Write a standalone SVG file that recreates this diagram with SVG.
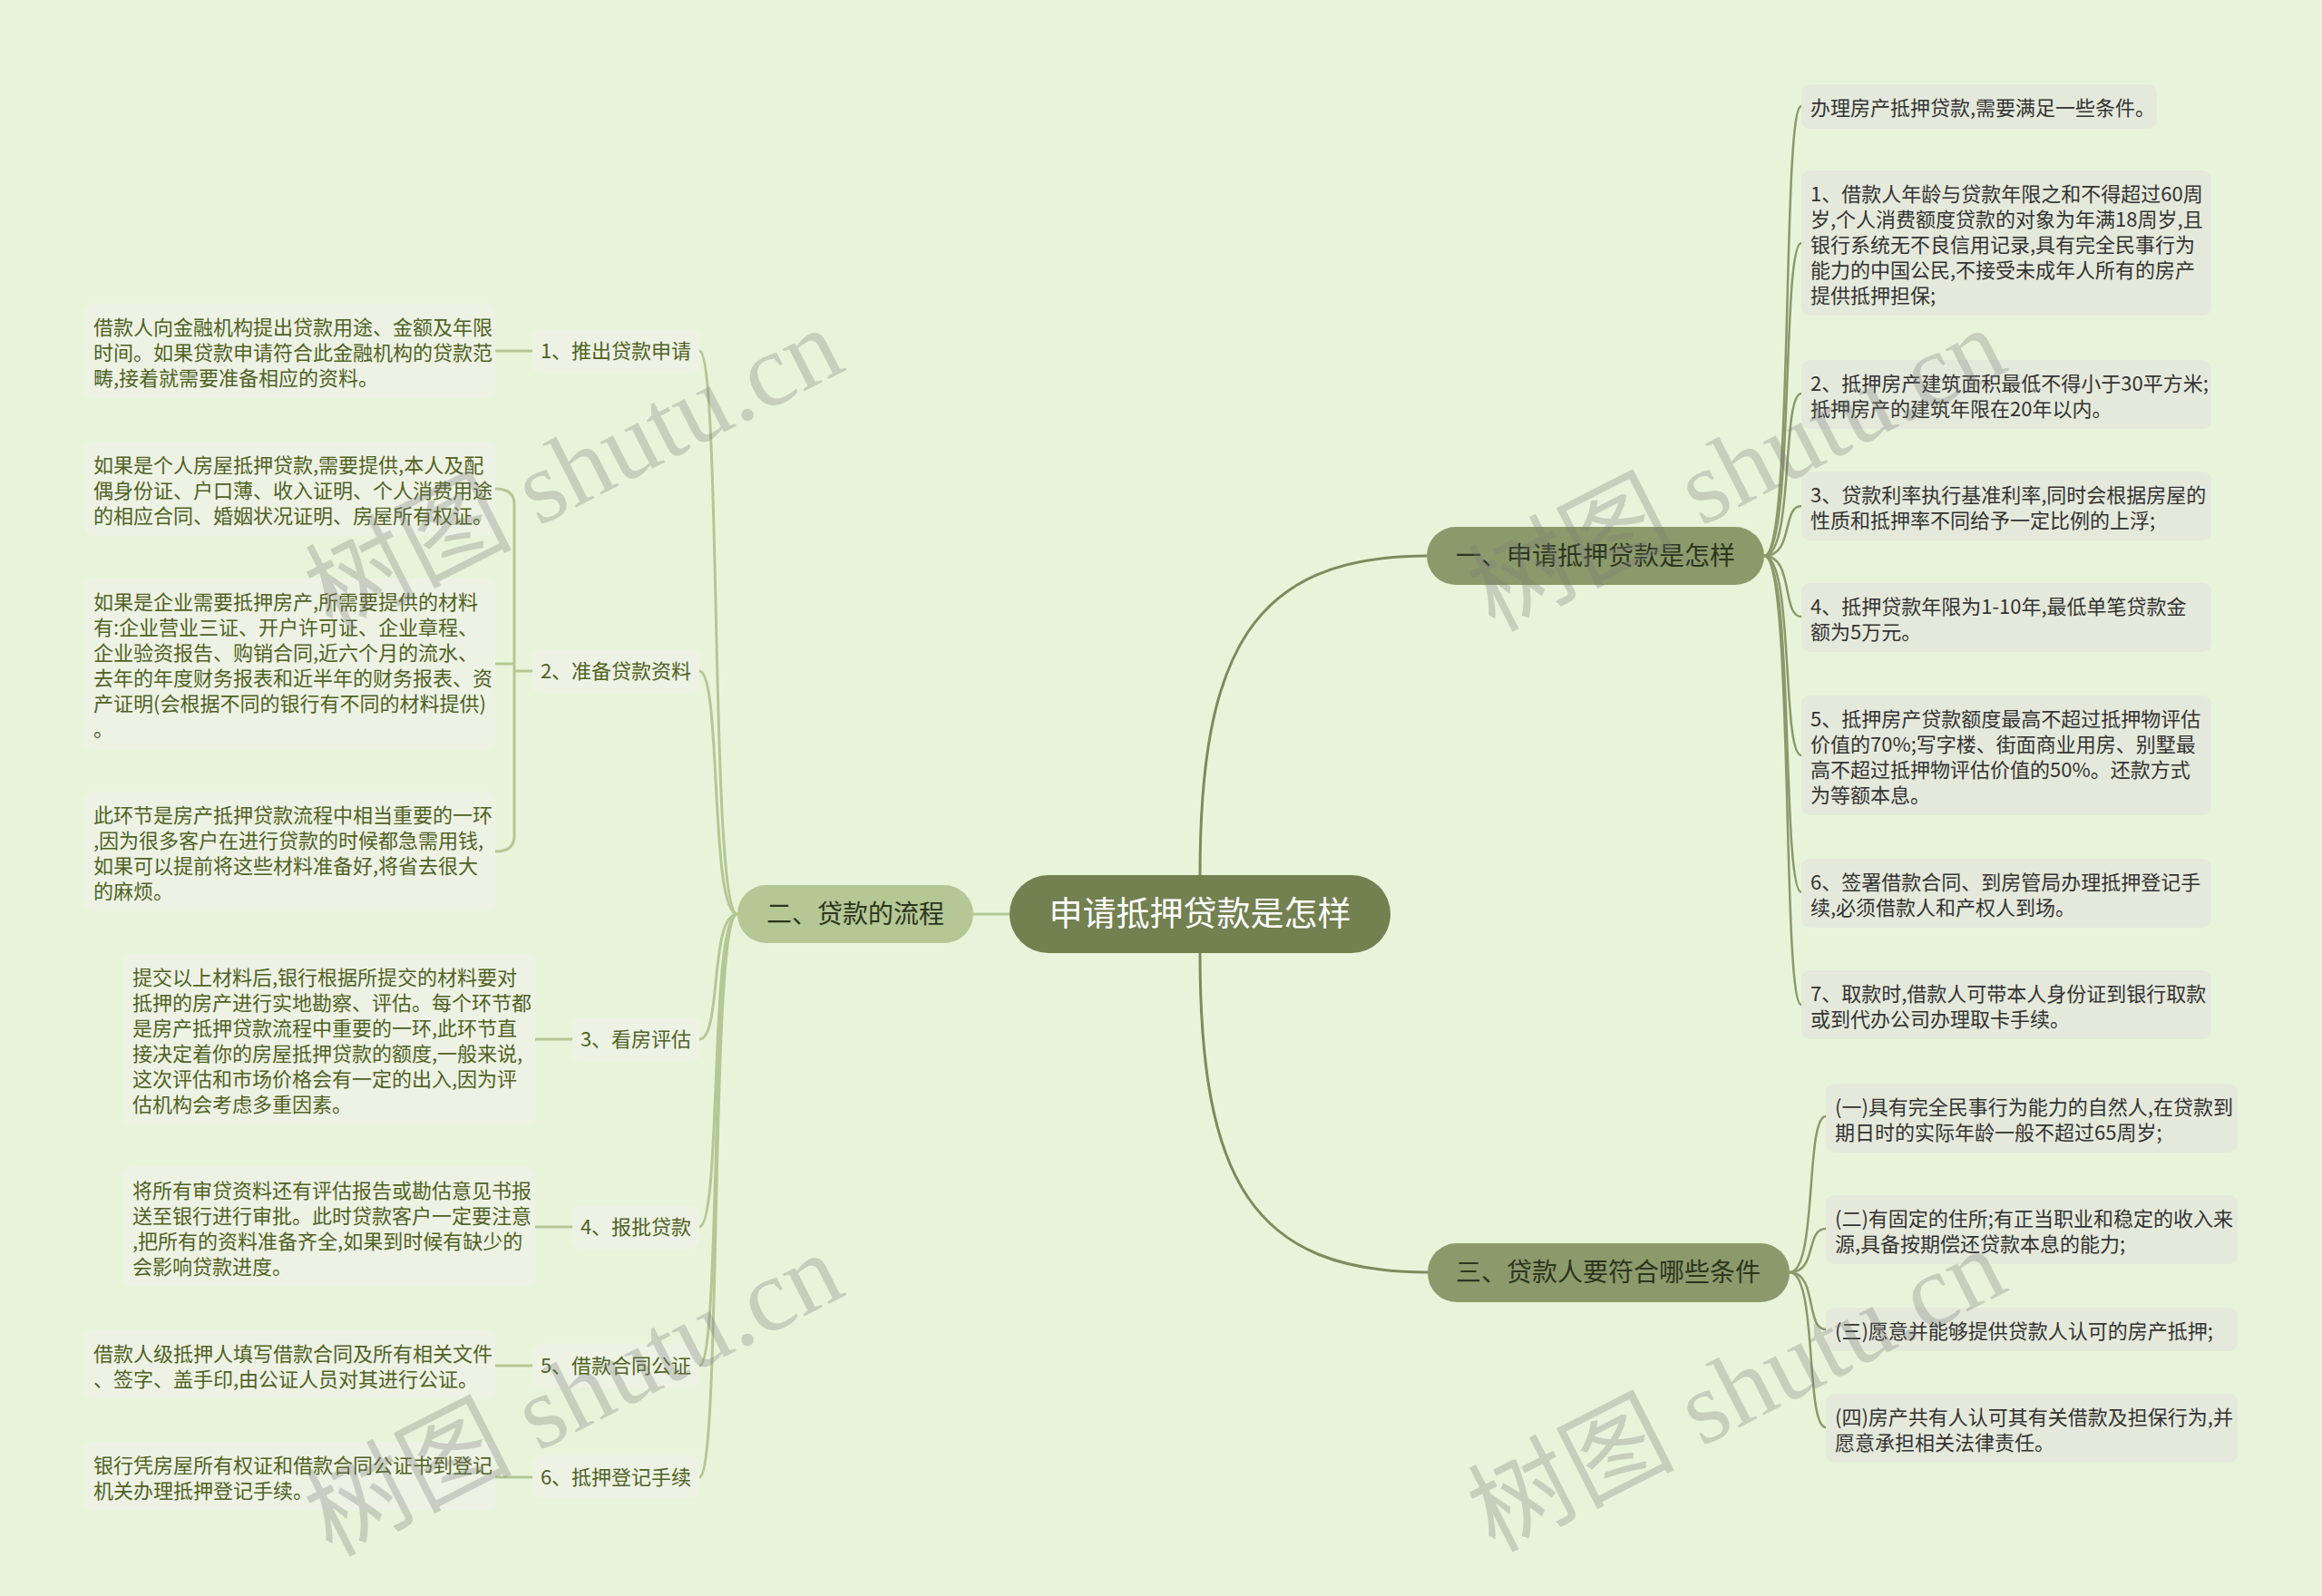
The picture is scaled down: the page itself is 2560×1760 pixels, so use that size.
<svg xmlns="http://www.w3.org/2000/svg" width="2560" height="1760" viewBox="0 0 2560 1760">
<style>
text{font-family:"Noto Sans CJK SC","Noto Sans",sans-serif;}
.lr{fill:#e5e9db;}
.ll{fill:#eef2e4;}
.tr{font-size:22px;fill:#333333;}
.tl{font-size:22px;fill:#4f6224;}
.sub{fill:#eef2e4;}
.ts{font-size:22px;fill:#4f6224;text-anchor:middle;}
.cR{fill:none;stroke:#8a996a;stroke-width:2.5;}
.cL{fill:none;stroke:#b4c794;stroke-width:3;}
.cM{fill:none;stroke:#7d8b5c;stroke-width:3;}
.wm{font-family:"Liberation Serif","Noto Sans CJK SC",serif;font-size:114px;fill:#7a7a7a;opacity:0.3;}
</style>
<rect width="2560" height="1760" fill="#e8f4da"/>

<g id="connectors">
  <path class="cM" d="M1323,966 C1323,720 1380,613 1573,613"/>
  <path class="cM" d="M1323,1050 C1323,1300 1380,1403 1574,1403"/>
  <path class="cL" d="M1113,1008 L1073,1008"/>
  <path class="cR" d="M1945,613 C1978,613 1964,117 1986,117"/>
  <path class="cR" d="M1945,613 C1978,613 1964,268 1986,268"/>
  <path class="cR" d="M1945,613 C1978,613 1964,434 1986,434"/>
  <path class="cR" d="M1945,613 C1978,613 1964,558 1986,558"/>
  <path class="cR" d="M1945,613 C1978,613 1964,680 1986,680"/>
  <path class="cR" d="M1945,613 C1978,613 1964,833 1986,833"/>
  <path class="cR" d="M1945,613 C1978,613 1964,984 1986,984"/>
  <path class="cR" d="M1945,613 C1978,613 1964,1108 1986,1108"/>
  <path class="cR" d="M1973,1403 C2004,1403 1990,1231 2013,1231"/>
  <path class="cR" d="M1973,1403 C2004,1403 1990,1355 2013,1355"/>
  <path class="cR" d="M1973,1403 C2004,1403 1990,1466 2013,1466"/>
  <path class="cR" d="M1973,1403 C2004,1403 1990,1574 2013,1574"/>
  <path class="cL" d="M813,1008 C782,1008 796,387 771,387"/>
  <path class="cL" d="M813,1008 C782,1008 796,740 771,740"/>
  <path class="cL" d="M813,1008 C782,1008 796,1146 771,1146"/>
  <path class="cL" d="M813,1008 C782,1008 796,1353 771,1353"/>
  <path class="cL" d="M813,1008 C782,1008 796,1506 771,1506"/>
  <path class="cL" d="M813,1008 C782,1008 796,1629 771,1629"/>
  <path class="cL" d="M587,387 L546,387"/>
  <path class="cL" d="M587,740 L567,740 M546,539 Q567,539 567,556 L567,922 Q567,939 546,939 M567,732 L546,732"/>
  <path class="cL" d="M631,1146 L590,1146"/>
  <path class="cL" d="M631,1353 L590,1353"/>
  <path class="cL" d="M587,1506 L546,1506"/>
  <path class="cL" d="M587,1629 L546,1629"/>
</g>

<g id="root">
  <rect x="1113" y="965" width="420" height="86" rx="43" fill="#738050"/>
  <text x="1323" y="1021" font-size="37" fill="#ffffff" text-anchor="middle">申请抵押贷款是怎样</text>
</g>

<g id="b1">
  <rect x="1573" y="581" width="372" height="64" rx="32" fill="#8c9a6b"/>
  <text x="1759" y="623" font-size="28" fill="#2c3520" text-anchor="middle">一、申请抵押贷款是怎样</text>
</g>
<g id="b2">
  <rect x="813" y="976" width="260" height="64" rx="32" fill="#b4c794"/>
  <text x="943" y="1018" font-size="28" fill="#2c3520" text-anchor="middle">二、贷款的流程</text>
</g>
<g id="b3">
  <rect x="1574" y="1371" width="399" height="65" rx="32" fill="#8c9a6b"/>
  <text x="1773" y="1413" font-size="28" fill="#2c3520" text-anchor="middle">三、贷款人要符合哪些条件</text>
</g>

<g id="r0"><rect class="lr" x="1986" y="93" width="392" height="49" rx="9"/>
<text class="tr" x="1996" y="127">办理房产抵押贷款,需要满足一些条件。</text></g>
<g id="r1"><rect class="lr" x="1986" y="188" width="452" height="160" rx="9"/>
<text class="tr"><tspan x="1996" y="222">1、借款人年龄与贷款年限之和不得超过60周</tspan><tspan x="1996" y="250">岁,个人消费额度贷款的对象为年满18周岁,且</tspan><tspan x="1996" y="278">银行系统无不良信用记录,具有完全民事行为</tspan><tspan x="1996" y="306">能力的中国公民,不接受未成年人所有的房产</tspan><tspan x="1996" y="334">提供抵押担保;</tspan></text></g>
<g id="r2"><rect class="lr" x="1986" y="397" width="452" height="76" rx="9"/>
<text class="tr"><tspan x="1996" y="431">2、抵押房产建筑面积最低不得小于30平方米;</tspan><tspan x="1996" y="459">抵押房产的建筑年限在20年以内。</tspan></text></g>
<g id="r3"><rect class="lr" x="1986" y="520" width="452" height="76" rx="9"/>
<text class="tr"><tspan x="1996" y="554">3、贷款利率执行基准利率,同时会根据房屋的</tspan><tspan x="1996" y="582">性质和抵押率不同给予一定比例的上浮;</tspan></text></g>
<g id="r4"><rect class="lr" x="1986" y="643" width="452" height="76" rx="9"/>
<text class="tr"><tspan x="1996" y="677">4、抵押贷款年限为1-10年,最低单笔贷款金</tspan><tspan x="1996" y="705">额为5万元。</tspan></text></g>
<g id="r5"><rect class="lr" x="1986" y="767" width="452" height="132" rx="9"/>
<text class="tr"><tspan x="1996" y="801">5、抵押房产贷款额度最高不超过抵押物评估</tspan><tspan x="1996" y="829">价值的70%;写字楼、街面商业用房、别墅最</tspan><tspan x="1996" y="857">高不超过抵押物评估价值的50%。还款方式</tspan><tspan x="1996" y="885">为等额本息。</tspan></text></g>
<g id="r6"><rect class="lr" x="1986" y="947" width="452" height="76" rx="9"/>
<text class="tr"><tspan x="1996" y="981">6、签署借款合同、到房管局办理抵押登记手</tspan><tspan x="1996" y="1009">续,必须借款人和产权人到场。</tspan></text></g>
<g id="r7"><rect class="lr" x="1986" y="1070" width="452" height="76" rx="9"/>
<text class="tr"><tspan x="1996" y="1104">7、取款时,借款人可带本人身份证到银行取款</tspan><tspan x="1996" y="1132">或到代办公司办理取卡手续。</tspan></text></g>

<g id="c1"><rect class="lr" x="2013" y="1195" width="454" height="76" rx="9"/>
<text class="tr"><tspan x="2023" y="1229">(一)具有完全民事行为能力的自然人,在贷款到</tspan><tspan x="2023" y="1257">期日时的实际年龄一般不超过65周岁;</tspan></text></g>
<g id="c2"><rect class="lr" x="2013" y="1318" width="454" height="76" rx="9"/>
<text class="tr"><tspan x="2023" y="1352">(二)有固定的住所;有正当职业和稳定的收入来</tspan><tspan x="2023" y="1380">源,具备按期偿还贷款本息的能力;</tspan></text></g>
<g id="c3"><rect class="lr" x="2013" y="1442" width="454" height="48" rx="9"/>
<text class="tr" x="2023" y="1476">(三)愿意并能够提供贷款人认可的房产抵押;</text></g>
<g id="c4"><rect class="lr" x="2013" y="1537" width="454" height="76" rx="9"/>
<text class="tr"><tspan x="2023" y="1571">(四)房产共有人认可其有关借款及担保行为,并</tspan><tspan x="2023" y="1599">愿意承担相关法律责任。</tspan></text></g>

<g id="s1"><rect class="sub" x="587" y="363" width="184" height="48" rx="9"/><text class="ts" x="679" y="395">1、推出贷款申请</text></g>
<g id="s2"><rect class="sub" x="587" y="716" width="184" height="48" rx="9"/><text class="ts" x="679" y="748">2、准备贷款资料</text></g>
<g id="s3"><rect class="sub" x="631" y="1122" width="140" height="48" rx="9"/><text class="ts" x="701" y="1154">3、看房评估</text></g>
<g id="s4"><rect class="sub" x="631" y="1329" width="140" height="48" rx="9"/><text class="ts" x="701" y="1361">4、报批贷款</text></g>
<g id="s5"><rect class="sub" x="587" y="1482" width="184" height="48" rx="9"/><text class="ts" x="679" y="1514">5、借款合同公证</text></g>
<g id="s6"><rect class="sub" x="587" y="1605" width="184" height="48" rx="9"/><text class="ts" x="679" y="1637">6、抵押登记手续</text></g>

<g id="l1"><rect class="ll" x="93" y="335" width="453" height="104" rx="9"/>
<text class="tl"><tspan x="103" y="369">借款人向金融机构提出贷款用途、金额及年限</tspan><tspan x="103" y="397">时间。如果贷款申请符合此金融机构的贷款范</tspan><tspan x="103" y="425">畴,接着就需要准备相应的资料。</tspan></text></g>
<g id="l2a"><rect class="ll" x="93" y="487" width="453" height="104" rx="9"/>
<text class="tl"><tspan x="103" y="521">如果是个人房屋抵押贷款,需要提供,本人及配</tspan><tspan x="103" y="549">偶身份证、户口薄、收入证明、个人消费用途</tspan><tspan x="103" y="577">的相应合同、婚姻状况证明、房屋所有权证。</tspan></text></g>
<g id="l2b"><rect class="ll" x="93" y="638" width="453" height="188" rx="9"/>
<text class="tl"><tspan x="103" y="672">如果是企业需要抵押房产,所需要提供的材料</tspan><tspan x="103" y="700">有:企业营业三证、开户许可证、企业章程、</tspan><tspan x="103" y="728">企业验资报告、购销合同,近六个月的流水、</tspan><tspan x="103" y="756">去年的年度财务报表和近半年的财务报表、资</tspan><tspan x="103" y="784">产证明(会根据不同的银行有不同的材料提供)</tspan><tspan x="103" y="812">。</tspan></text></g>
<g id="l2c"><rect class="ll" x="93" y="873" width="453" height="132" rx="9"/>
<text class="tl"><tspan x="103" y="907">此环节是房产抵押贷款流程中相当重要的一环</tspan><tspan x="103" y="935">,因为很多客户在进行贷款的时候都急需用钱,</tspan><tspan x="103" y="963">如果可以提前将这些材料准备好,将省去很大</tspan><tspan x="103" y="991">的麻烦。</tspan></text></g>
<g id="l3"><rect class="ll" x="136" y="1052" width="454" height="188" rx="9"/>
<text class="tl"><tspan x="146" y="1086">提交以上材料后,银行根据所提交的材料要对</tspan><tspan x="146" y="1114">抵押的房产进行实地勘察、评估。每个环节都</tspan><tspan x="146" y="1142">是房产抵押贷款流程中重要的一环,此环节直</tspan><tspan x="146" y="1170">接决定着你的房屋抵押贷款的额度,一般来说,</tspan><tspan x="146" y="1198">这次评估和市场价格会有一定的出入,因为评</tspan><tspan x="146" y="1226">估机构会考虑多重因素。</tspan></text></g>
<g id="l4"><rect class="ll" x="136" y="1287" width="454" height="132" rx="9"/>
<text class="tl"><tspan x="146" y="1321">将所有审贷资料还有评估报告或勘估意见书报</tspan><tspan x="146" y="1349">送至银行进行审批。此时贷款客户一定要注意</tspan><tspan x="146" y="1377">,把所有的资料准备齐全,如果到时候有缺少的</tspan><tspan x="146" y="1405">会影响贷款进度。</tspan></text></g>
<g id="l5"><rect class="ll" x="93" y="1467" width="453" height="76" rx="9"/>
<text class="tl"><tspan x="103" y="1501">借款人级抵押人填写借款合同及所有相关文件</tspan><tspan x="103" y="1529">、签字、盖手印,由公证人员对其进行公证。</tspan></text></g>
<g id="l6"><rect class="ll" x="93" y="1590" width="453" height="76" rx="9"/>
<text class="tl"><tspan x="103" y="1624">银行凭房屋所有权证和借款合同公证书到登记</tspan><tspan x="103" y="1652">机关办理抵押登记手续。</tspan></text></g>

<g id="watermarks">
  <text class="wm" transform="translate(650,552) rotate(-27)" text-anchor="middle">树图 shutu.cn</text>
  <text class="wm" transform="translate(1932,552) rotate(-27)" text-anchor="middle">树图 shutu.cn</text>
  <text class="wm" transform="translate(650,1572) rotate(-27)" text-anchor="middle">树图 shutu.cn</text>
  <text class="wm" transform="translate(1932,1567) rotate(-27)" text-anchor="middle">树图 shutu.cn</text>
</g>
</svg>
